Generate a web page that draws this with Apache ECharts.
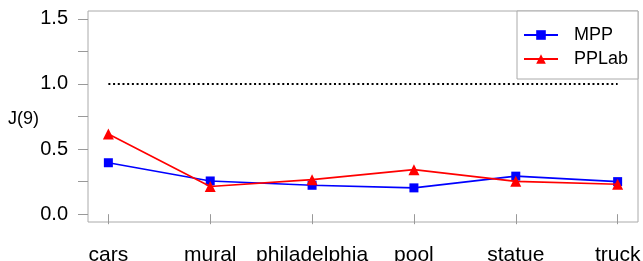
<!DOCTYPE html>
<html>
<head>
<meta charset="utf-8">
<script src="https://cdn.jsdelivr.net/npm/echarts@6/dist/echarts.min.js"></script>
<style>html,body{margin:0;padding:0;background:#fff}#c{width:643px;height:261px}</style>
</head>
<body>
<div id="c"></div>
<script>
const categories = ['cars', 'mural', 'philadelphia', 'pool', 'statue', 'truck'];
const mppValues = [0.395, 0.255, 0.222, 0.202, 0.292, 0.250];
const pplabValues = [0.615, 0.212, 0.265, 0.342, 0.252, 0.230];
const referenceValues = [1.0, 1.0, 1.0, 1.0, 1.0, 1.0];
const yTickValues = [0, 0.25, 0.5, 0.75, 1.0, 1.25, 1.5];
const yLabelValues = [0, 0.5, 1.0, 1.5];
const yAxisTitle = 'J(9)';

const font = 'Liberation Sans, Arial, sans-serif';
const pos = categories.map((c, i) => i + 1);
const pts = arr => arr.map((v, i) => [pos[i], v]);

const chart = echarts.init(document.getElementById('c'), null, {renderer: 'canvas'});
chart.setOption({
  animation: false,
  backgroundColor: '#fff',
  grid: {left: 88, right: 5, top: 11, bottom: 39, containLabel: false, outerBoundsMode: 'none',
    show: true, borderColor: '#aaaaaa', borderWidth: 1, backgroundColor: 'transparent'},
  xAxis: {
    type: 'value', min: 0.8, max: 6.2,
    axisLine: {show: false},
    splitLine: {show: false},
    axisTick: {show: true, inside: false, length: 10, customValues: pos, lineStyle: {color: '#999999', width: 1}},
    axisLabel: {show: true, customValues: pos, margin: 23, color: '#000', fontSize: 21, fontFamily: font,
      hideOverlap: false, formatter: v => categories[Math.round(v) - 1]}
  },
  yAxis: {
    type: 'value', min: -0.06, max: 1.56,
    axisLine: {show: false},
    splitLine: {show: false},
    axisTick: {show: true, inside: false, length: 10, customValues: yTickValues, lineStyle: {color: '#999999', width: 1}},
    axisLabel: {show: true, customValues: yLabelValues, margin: 20, color: '#000', fontSize: 20, fontFamily: font,
      formatter: v => v.toFixed(1)}
  },
  legend: {
    data: ['MPP', 'PPLab'],
    orient: 'vertical',
    left: 523, top: 26,
    itemWidth: 34, itemHeight: 12, itemGap: 6,
    textStyle: {fontSize: 18, fontFamily: font, color: '#000', padding: [0, 0, 0, 11]},
    padding: 0
  },
  graphic: [
    {type: 'rect', shape: {x: 517, y: 11, width: 121, height: 68}, style: {fill: '#fff', stroke: '#aaaaaa', lineWidth: 1}, z: 0},
    {type: 'text', left: 8, top: 110, style: {text: yAxisTitle, fontSize: 18, fontFamily: font, fill: '#000'}}
  ],
  series: [
    {name: 'ref', type: 'line', data: pts(referenceValues), symbol: 'none', silent: true,
      lineStyle: {color: '#000', width: 2, type: [2, 2.7]}, z: 1},
    {name: 'MPP', type: 'line', data: pts(mppValues), symbol: 'rect', symbolSize: 9,
      itemStyle: {color: '#0000ff'}, lineStyle: {color: '#0000ff', width: 1.6}, z: 3},
    {name: 'PPLab', type: 'line', data: pts(pplabValues), symbol: 'triangle', symbolSize: 11,
      itemStyle: {color: '#ff0000'}, lineStyle: {color: '#ff0000', width: 1.6}, z: 4}
  ]
});
</script>
</body>
</html>
